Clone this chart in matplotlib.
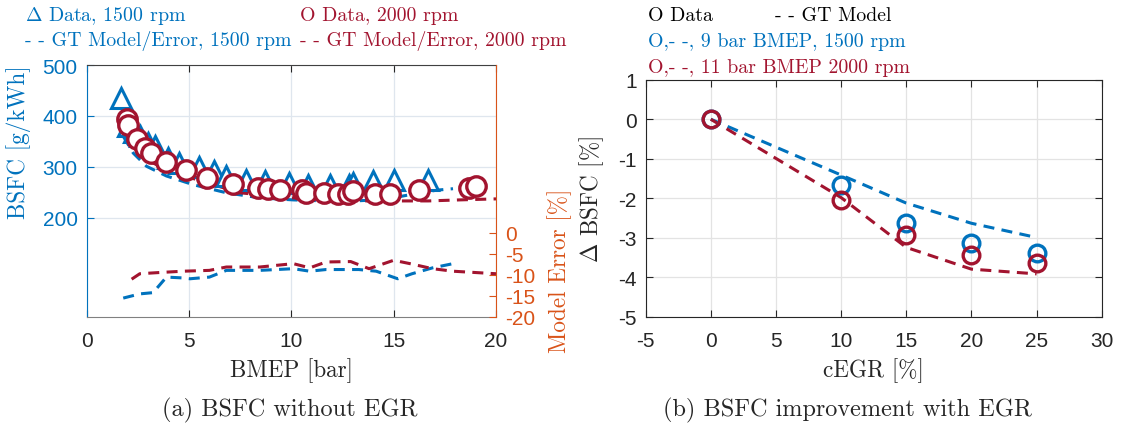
import matplotlib
matplotlib.use('Agg')
import matplotlib.pyplot as plt
import numpy as np

plt.rcParams['mathtext.fontset'] = 'cm'
plt.rcParams['axes.unicode_minus'] = False

C_BLUE = '#0072BD'
C_RED = '#A2142F'
C_ORANGE = '#D95319'
C_DARK = '#262626'
SERIF = ['cmr10', 'DejaVu Serif']
SANS = ['Liberation Sans', 'DejaVu Sans']

# (a) BSFC without EGR
bmep_1500 = [1.7, 2.0, 2.3, 2.6, 3.0, 3.35, 4.0, 4.5, 5.5, 6.2, 6.8, 7.8, 8.7, 9.9, 10.8, 11.9, 12.8, 13.0, 14.0, 15.0, 16.7]
bsfc_1500 = [435, 380, 368, 360, 347, 340, 318, 308, 300, 291, 282, 275, 272, 269, 265, 265, 265, 268, 272, 275, 275]
bmep_2000 = [1.95, 2.04, 2.48, 2.85, 3.17, 3.9, 4.85, 5.86, 7.16, 8.37, 8.86, 9.43, 10.5, 10.74, 11.6, 12.28, 12.77, 13.0, 14.07, 14.8, 16.26, 18.7, 19.03]
bsfc_2000 = [393, 383, 355, 337, 327, 309, 293, 278, 267, 259, 257, 254, 254, 249, 249, 246, 246, 252, 246, 246, 254, 259, 262]

model_x_1500 = [1.79, 2.28, 2.93, 3.9, 5.2, 6.83, 8.46, 10.1, 11.7, 13.1, 14.15, 14.96, 15.9, 17.08, 17.9]
model_y_1500 = [360, 327, 301, 282, 265, 249, 239, 235, 233, 233, 235, 239, 246, 254, 257]
model_x_2000 = [2.0, 2.12, 2.93, 4.07, 5.86, 7.48, 10.1, 11.7, 13.3, 15.0, 16.7, 18.2, 20.0]
model_y_2000 = [360, 340, 314, 291, 269, 249, 239, 236, 233, 233, 233, 235, 237]

err_x_1500 = [1.79, 2.6, 3.25, 3.9, 4.7, 5.05, 6.0, 6.83, 8.46, 10.1, 10.9, 11.7, 13.3, 14.15, 15.2, 15.9, 16.9, 17.9]
err_y_1500 = [-15.5, -14.5, -14.2, -10.5, -10.7, -10.9, -10.5, -8.9, -8.9, -8.5, -9.1, -8.7, -8.7, -9.1, -10.9, -9.7, -8.3, -7.3]
err_x_2000 = [2.2, 2.6, 3.6, 4.7, 6.0, 6.83, 8.46, 10.1, 10.9, 11.7, 12.9, 13.8, 15.0, 15.8, 16.9, 17.9, 20.0]
err_y_2000 = [-11, -9.7, -9.4, -9.1, -8.9, -8.1, -8.1, -7.3, -8.3, -6.9, -6.8, -8.5, -6.5, -7.3, -8.5, -9.1, -9.7]

# (b) BSFC improvement with EGR
egr = [0, 10, 15, 20, 25]
dbsfc_9bar = [0, -1.66, -2.63, -3.13, -3.37]
dbsfc_11bar = [0, -2.04, -2.92, -3.43, -3.64]
egr_model = [0, 10, 15, 20, 25]
model_9bar = [0, -1.41, -2.12, -2.63, -2.99]
model_11bar = [0, -1.98, -3.24, -3.79, -3.91]

fig = plt.figure(figsize=(11.26, 4.27), dpi=100)
DASH = (3.6, 2.4)
TICK_FS = 15
LAB_FS = 16.7
LEG_FS = 14.3


def set_ticks(ax, xt=None, yt=None):
    if xt is not None:
        ax.set_xticks(xt, [str(v) for v in xt], family=SANS, fontsize=TICK_FS)
    if yt is not None:
        ax.set_yticks(yt, [str(v) for v in yt], family=SANS, fontsize=TICK_FS)
    ax.tick_params(direction='in', length=5, width=0.8, pad=6.5)
    ax.tick_params(axis='x', pad=10)


# ---- left panel
ax1 = fig.add_axes([0.0769, 0.2553, 0.3636, 0.5901])
ax1.plot(model_x_1500, model_y_1500, color=C_BLUE, lw=2.2, dashes=DASH, zorder=2)
ax1.plot(model_x_2000, model_y_2000, color=C_RED, lw=2.2, dashes=DASH, zorder=2)
ax1.plot(bmep_1500, bsfc_1500, '^', ms=15, mfc='white', mec=C_BLUE, mew=2.2, ls='none', zorder=3)
ax1.plot(bmep_2000, bsfc_2000, 'o', ms=14, mfc='white', mec=C_RED, mew=2.4, ls='none', zorder=4)
ax1.set_xlim(0, 20)
ax1.set_ylim(5, 500)
set_ticks(ax1, [0, 5, 10, 15, 20], [200, 300, 400, 500])
ax1.grid(True, color='#dfe6ee', lw=0.9)
ax1.set_axisbelow(True)
ax1.tick_params(axis='y', colors=C_BLUE)
ax1.tick_params(axis='x', colors=C_DARK, top=True)
ax1.spines['left'].set_color(C_BLUE)
ax1.spines['bottom'].set_color('#808080')
ax1.spines['top'].set_color('#404040')
ax1.spines['right'].set_visible(False)
ax1.set_xlabel('BMEP [bar]', family=SERIF, fontsize=LAB_FS, color=C_DARK)
ax1.xaxis.set_label_coords(0.5, -0.16)
ax1.set_ylabel('BSFC [g/kWh]', family=SERIF, fontsize=LAB_FS, color=C_BLUE)
ax1.yaxis.set_label_coords(-0.135, 0.696)

ax2 = ax1.twinx()
ax2.plot(err_x_1500, err_y_1500, color=C_BLUE, lw=2.2, dashes=DASH)
ax2.plot(err_x_2000, err_y_2000, color=C_RED, lw=2.2, dashes=DASH)
ax2.set_ylim(-20, 40)
set_ticks(ax2, None, [-20, -15, -10, -5, 0])
ax2.tick_params(axis='y', colors=C_ORANGE)
for s in ['left', 'top', 'bottom']:
    ax2.spines[s].set_visible(False)
ax2.spines['right'].set_color(C_ORANGE)
ax2.set_ylabel('Model Error [%]', family=SERIF, fontsize=LAB_FS, color=C_ORANGE)
ax2.yaxis.set_label_coords(1.126, 0.187)

fig.text(25 / 1126, 1 - 21 / 427, r'$\Delta$ Data, 1500 rpm', family=SERIF, fontsize=LEG_FS, color=C_BLUE, va='baseline')
fig.text(300 / 1126, 1 - 21 / 427, 'O Data, 2000 rpm', family=SERIF, fontsize=LEG_FS, color=C_RED, va='baseline')
fig.text(25 / 1126, 1 - 46 / 427, '- - GT Model/Error, 1500 rpm', family=SERIF, fontsize=LEG_FS, color=C_BLUE, va='baseline')
fig.text(300 / 1126, 1 - 46 / 427, '- - GT Model/Error, 2000 rpm', family=SERIF, fontsize=LEG_FS, color=C_RED, va='baseline')

# ---- right panel
ax3 = fig.add_axes([0.5734, 0.2553, 0.405, 0.5557])
ax3.plot(egr_model, model_9bar, color=C_BLUE, lw=2.2, dashes=DASH, zorder=2)
ax3.plot(egr_model, model_11bar, color=C_RED, lw=2.2, dashes=DASH, zorder=2)
ax3.plot(egr, dbsfc_9bar, 'o', ms=12, mfc='none', mec=C_BLUE, mew=2.4, ls='none', zorder=3)
ax3.plot(egr, dbsfc_11bar, 'o', ms=12, mfc='none', mec=C_RED, mew=2.4, ls='none', zorder=4)
ax3.set_xlim(-5, 30)
ax3.set_ylim(-5, 1)
set_ticks(ax3, list(range(-5, 31, 5)), list(range(-5, 2)))
ax3.grid(True, color='#e3e3e3', lw=0.9)
ax3.set_axisbelow(True)
ax3.tick_params(colors=C_DARK, top=True, right=True)
for s in ax3.spines.values():
    s.set_color(C_DARK)
ax3.set_xlabel('cEGR [%]', family=SERIF, fontsize=LAB_FS, color=C_DARK)
ax3.xaxis.set_label_coords(0.5, -0.169)
ax3.set_ylabel(r'$\Delta$ BSFC [%]', family=SERIF, fontsize=LAB_FS, color=C_DARK)
ax3.yaxis.set_label_coords(-0.088, 0.5)

fig.text(648 / 1126, 1 - 21 / 427, 'O Data', family=SERIF, fontsize=LEG_FS, color='black', va='baseline')
fig.text(775 / 1126, 1 - 21 / 427, '- - GT Model', family=SERIF, fontsize=LEG_FS, color='black', va='baseline')
fig.text(648 / 1126, 1 - 47 / 427, 'O,- -, 9 bar BMEP, 1500 rpm', family=SERIF, fontsize=LEG_FS, color=C_BLUE, va='baseline')
fig.text(648 / 1126, 1 - 73 / 427, 'O,- -, 11 bar BMEP 2000 rpm', family=SERIF, fontsize=LEG_FS, color=C_RED, va='baseline')

fig.text(0.2575, 0.039, '(a) BSFC without EGR', family=SERIF, fontsize=17.5, color=C_DARK, ha='center', va='center')
fig.text(0.7525, 0.039, '(b) BSFC improvement with EGR', family=SERIF, fontsize=17.5, color=C_DARK, ha='center', va='center')

fig.savefig('out.png', dpi=100)
